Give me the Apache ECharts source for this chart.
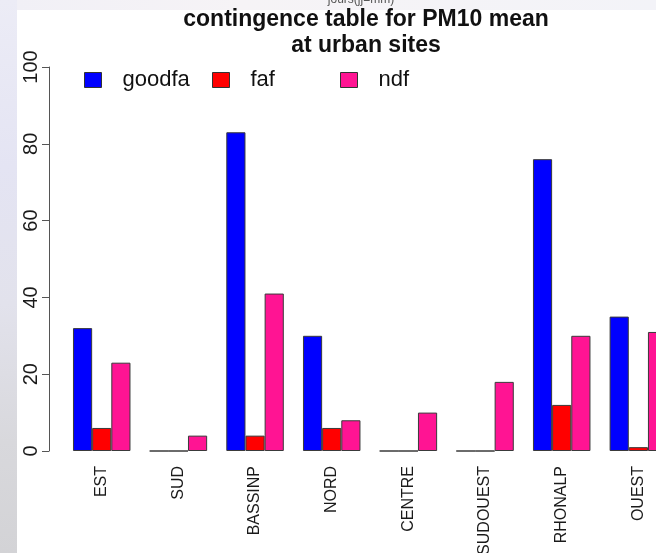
<!DOCTYPE html>
<html>
<head>
<meta charset="utf-8">
<script src="https://cdn.jsdelivr.net/npm/echarts@6/dist/echarts.min.js"></script>
<style>
  html, body { margin: 0; padding: 0; background: #ffffff; }
  #chart { width: 656px; height: 553px; }
</style>
</head>
<body>
<div id="chart"></div>
<script>
// Regions (x categories) and the three contingency counts per region
var categories = ['EST', 'SUD', 'BASSINP', 'NORD', 'CENTRE', 'SUDOUEST', 'RHONALP', 'OUEST'];
var goodfa = [32, 0, 83, 30, 0, 0, 76, 35];
var faf = [6, 0, 4, 6, 0, 0, 12, 1];
var ndf = [23, 4, 41, 8, 10, 18, 30, 31];
var seriesNames = ['goodfa', 'faf', 'ndf'];
var yTicks = [0, 20, 40, 60, 80, 100];

var FONT = '"Liberation Sans", Arial, Helvetica, sans-serif';
var colors = ['#0000ff', '#ff0000', '#ff1493'];
var seriesData = [goodfa, faf, ndf];

var chart = echarts.init(document.getElementById('chart'), null, { renderer: 'canvas' });

var series = seriesNames.map(function (name, i) {
  return {
    name: name,
    type: 'bar',
    data: seriesData[i],
    barGap: '0%',
    barCategoryGap: '25%',
    itemStyle: { color: colors[i], borderColor: '#3a3a3a', borderWidth: 1 },
    emphasis: { disabled: true }
  };
});

// one legend block per series, laid out horizontally with equal slot widths
var legendLefts = [84, 212, 340];
var legends = seriesNames.map(function (name, i) {
  return {
    data: [name],
    left: legendLefts[i],
    top: 69,
    padding: 0,
    orient: 'horizontal',
    icon: 'rect',
    itemWidth: 17,
    itemHeight: 15,
    selectedMode: false,
    itemStyle: { borderColor: '#333', borderWidth: 1 },
    textStyle: {
      fontFamily: FONT, fontSize: 22, color: '#111',
      lineHeight: 22, padding: [0, 0, 0, 16]
    }
  };
});

chart.setOption({
  animation: false,
  backgroundColor: '#ffffff',
  graphic: [
    {
      type: 'rect', z: -10, silent: true,
      shape: { x: 0, y: 0, width: 17, height: 553 },
      style: {
        fill: new echarts.graphic.LinearGradient(0, 0, 0, 1, [
          { offset: 0, color: '#ececf6' },
          { offset: 0.3, color: '#e4e4f3' },
          { offset: 0.55, color: '#e2e2ec' },
          { offset: 0.8, color: '#d8d8dc' },
          { offset: 1, color: '#d3d3d6' }
        ])
      }
    },
    {
      type: 'rect', z: -10, silent: true,
      shape: { x: 17, y: 0, width: 639, height: 10 },
      style: {
        fill: new echarts.graphic.LinearGradient(0, 0, 1, 0, [
          { offset: 0, color: '#f1f0f6' },
          { offset: 0.35, color: '#f6f3f6' },
          { offset: 1, color: '#f3f3f8' }
        ])
      }
    },
    {
      type: 'text', z: -5, silent: true,
      style: {
        x: 361, y: 6, text: 'jours(jj=mm)', fill: '#555',
        font: '12px ' + FONT, align: 'center', verticalAlign: 'bottom'
      }
    }
  ],
  title: {
    text: 'contingence table for PM10 mean\nat urban sites',
    left: 366,
    top: 7,
    padding: 0,
    textAlign: 'center',
    textStyle: {
      fontFamily: FONT, fontSize: 23, fontWeight: 'bold',
      color: '#111', lineHeight: 26
    }
  },
  legend: legends,
  grid: {
    left: 63.4, top: 67, width: 613.3, height: 384,
    containLabel: false, outerBoundsMode: 'none'
  },
  xAxis: {
    type: 'category',
    data: categories,
    axisLine: { show: false },
    axisTick: { show: false },
    axisLabel: {
      rotate: 90, margin: 15, interval: 0,
      fontFamily: FONT, fontSize: 16, color: '#1a1a1a'
    }
  },
  yAxis: {
    type: 'value',
    min: 0, max: 100, interval: 20,
    offset: 14.4,
    axisLine: { show: true, lineStyle: { color: '#555', width: 1 } },
    axisTick: { show: true, length: 7, lineStyle: { color: '#555', width: 1 } },
    splitLine: { show: false },
    axisLabel: {
      rotate: 90, margin: 8,
      fontFamily: FONT, fontSize: 20, color: '#1a1a1a',
      customValues: yTicks
    }
  },
  series: series
});
</script>
</body>
</html>
